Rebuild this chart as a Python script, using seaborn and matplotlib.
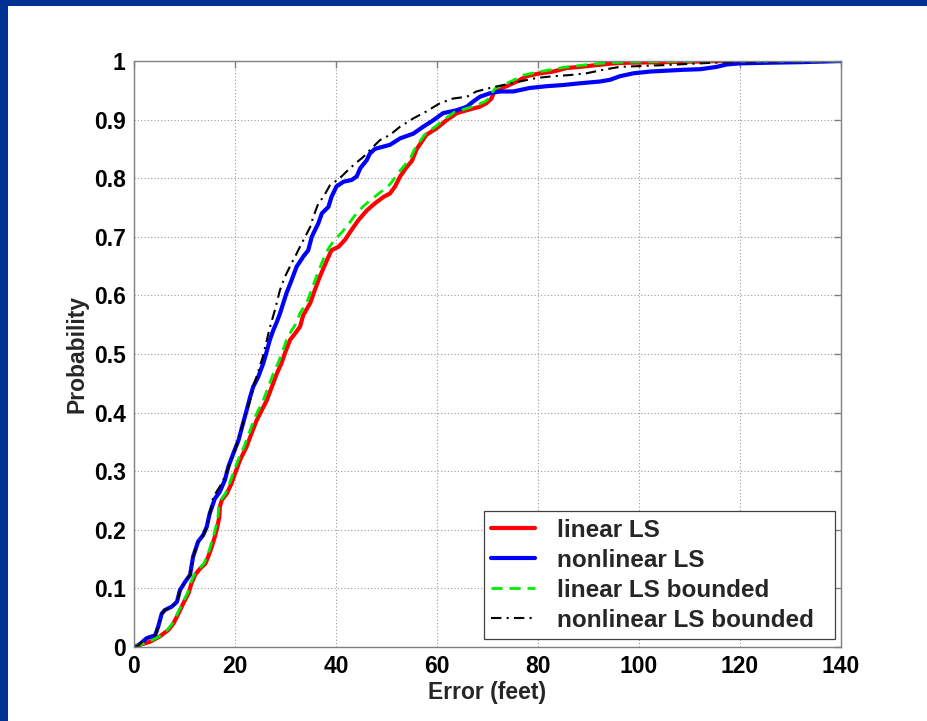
import matplotlib
matplotlib.use("Agg")
import matplotlib.pyplot as plt
import seaborn as sns
from matplotlib.patches import Rectangle

# ---------------- data ----------------
series_names = ["linear LS", "nonlinear LS", "linear LS bounded", "nonlinear LS bounded"]

red_x = [0, 0.9, 3.2, 5.1, 6.8, 7.8, 8.8, 9.8, 10.8, 11.4,
         12.1, 13.1, 14.1, 14.7, 15.4, 16.0, 16.5, 16.9, 17.0, 17.4,
         18.4, 19.3, 20.0, 21.0, 22.3, 23.3, 24.3, 25.3, 26.3, 27.3,
         28.3, 29.2, 30.0, 30.9, 31.9, 32.9, 33.5, 34.9, 35.8, 36.8,
         38.2, 39.1, 40.5, 41.8, 43.1, 44.4, 46.1, 47.7, 49.4, 50.7,
         51.7, 52.7, 54.0, 55.0, 56.0, 57.9, 59.9, 61.9, 63.9, 65.9,
         68.5, 69.8, 70.8, 71.2, 71.8, 73.8, 75.8, 77.7, 80.4, 83.0,
         85.7, 88.3, 91.6, 94.9, 97.5, 105.0, 117.0, 140.0]
red_y = [0, 0.003, 0.009, 0.018, 0.029, 0.040, 0.057, 0.075, 0.092, 0.109,
         0.123, 0.134, 0.142, 0.154, 0.171, 0.188, 0.205, 0.222, 0.239, 0.251,
         0.262, 0.279, 0.296, 0.319, 0.342, 0.365, 0.387, 0.404, 0.421, 0.444,
         0.467, 0.484, 0.504, 0.524, 0.535, 0.547, 0.566, 0.587, 0.609, 0.632,
         0.660, 0.677, 0.683, 0.695, 0.712, 0.728, 0.745, 0.757, 0.768, 0.774,
         0.786, 0.803, 0.819, 0.829, 0.850, 0.874, 0.885, 0.899, 0.911, 0.916,
         0.922, 0.928, 0.936, 0.945, 0.951, 0.957, 0.965, 0.974, 0.979, 0.982,
         0.988, 0.990, 0.993, 0.996, 0.997, 0.998, 1.0, 1.0]

blue_x = [0, 0.9, 2.5, 4.2, 4.8, 5.5, 6.1, 7.5, 8.5, 9.1,
          10.1, 11.1, 11.7, 12.7, 13.7, 14.4, 15.0, 16.0, 17.0, 18.0,
          18.7, 19.7, 20.7, 21.6, 22.3, 23.0, 23.6, 24.6, 25.6, 26.3,
          26.9, 27.6, 28.3, 28.9, 30.2, 31.2, 32.2, 33.5, 34.5, 35.2,
          36.5, 37.2, 38.5, 39.1, 40.1, 41.5, 43.1, 44.1, 44.8, 46.1,
          46.7, 47.7, 50.7, 52.7, 55.3, 57.3, 59.3, 61.2, 63.9, 65.9,
          67.2, 68.5, 70.5, 72.5, 75.1, 78.4, 81.7, 85.0, 88.3, 92.3,
          94.3, 96.2, 98.9, 102.2, 108.8, 112.1, 115.4, 117.3, 120.0, 125.3,
          131.9, 140.0]
blue_y = [0, 0.003, 0.015, 0.020, 0.035, 0.057, 0.063, 0.069, 0.077, 0.097,
          0.111, 0.123, 0.154, 0.180, 0.191, 0.205, 0.228, 0.253, 0.265, 0.285,
          0.308, 0.331, 0.353, 0.382, 0.404, 0.427, 0.444, 0.461, 0.484, 0.505,
          0.524, 0.541, 0.555, 0.569, 0.604, 0.626, 0.649, 0.666, 0.677, 0.700,
          0.723, 0.740, 0.751, 0.768, 0.786, 0.794, 0.797, 0.803, 0.817, 0.831,
          0.842, 0.850, 0.857, 0.868, 0.876, 0.888, 0.899, 0.911, 0.916, 0.922,
          0.931, 0.939, 0.945, 0.948, 0.948, 0.954, 0.957, 0.959, 0.962, 0.965,
          0.968, 0.974, 0.979, 0.982, 0.985, 0.986, 0.990, 0.994, 0.996, 0.997,
          0.998, 1.0]

green_x = [0, 0.9, 3.0, 5.0, 6.6, 7.6, 8.6, 9.6, 10.6, 11.2,
           11.9, 12.9, 13.8, 14.5, 15.1, 15.7, 16.2, 16.6, 16.8, 17.2,
           18.1, 18.9, 19.6, 20.6, 21.8, 22.8, 23.7, 24.6, 25.6, 26.6,
           27.6, 28.5, 29.4, 30.2, 31.0, 32.0, 32.9, 34.3, 35.2, 36.2,
           37.5, 38.5, 39.7, 41.2, 42.5, 43.8, 45.4, 47.0, 48.8, 50.2,
           51.2, 52.2, 53.6, 54.7, 55.6, 57.5, 59.5, 61.5, 63.5, 65.5,
           68.0, 69.5, 70.5, 70.9, 71.5, 73.4, 75.3, 77.2, 79.8, 82.5,
           85.0, 88.0, 91.0, 94.0, 97.0, 104.0, 116.0, 140.0]
green_y = [0, 0.003, 0.009, 0.018, 0.029, 0.040, 0.057, 0.075, 0.092, 0.109,
           0.123, 0.134, 0.142, 0.154, 0.171, 0.188, 0.205, 0.222, 0.239, 0.251,
           0.262, 0.279, 0.296, 0.319, 0.342, 0.365, 0.387, 0.404, 0.421, 0.444,
           0.467, 0.484, 0.504, 0.524, 0.537, 0.551, 0.570, 0.590, 0.611, 0.634,
           0.662, 0.680, 0.695, 0.708, 0.722, 0.737, 0.752, 0.764, 0.776, 0.785,
           0.795, 0.808, 0.822, 0.834, 0.850, 0.874, 0.887, 0.901, 0.913, 0.918,
           0.925, 0.931, 0.938, 0.946, 0.953, 0.960, 0.968, 0.976, 0.981, 0.985,
           0.989, 0.992, 0.995, 0.997, 0.998, 0.999, 1.0, 1.0]

black_x = [0, 0.9, 2.5, 4.2, 4.8, 5.5, 6.1, 7.5, 8.5, 9.1,
           10.1, 11.1, 11.7, 12.7, 13.7, 14.4, 15.0, 15.7, 17.0, 18.0,
           19.0, 20.0, 21.0, 22.0, 23.0, 23.6, 24.6, 25.5, 26.2, 26.9,
           27.9, 28.9, 29.9, 31.2, 31.9, 33.2, 33.9, 34.9, 35.5, 36.5,
           37.5, 38.8, 39.8, 41.1, 42.4, 43.8, 45.1, 46.1, 46.7, 48.7,
           50.7, 52.7, 55.3, 57.9, 60.6, 63.2, 65.9, 67.8, 70.5, 73.1,
           76.4, 79.7, 83.0, 86.3, 89.6, 92.9, 96.2, 105.0, 117.0, 140.0]
black_y = [0, 0.003, 0.015, 0.020, 0.035, 0.057, 0.063, 0.069, 0.077, 0.097,
           0.111, 0.123, 0.154, 0.180, 0.191, 0.205, 0.228, 0.256, 0.274, 0.291,
           0.313, 0.336, 0.365, 0.393, 0.421, 0.444, 0.470, 0.495, 0.520, 0.545,
           0.575, 0.609, 0.632, 0.655, 0.666, 0.689, 0.700, 0.717, 0.734, 0.757,
           0.768, 0.788, 0.794, 0.803, 0.814, 0.825, 0.834, 0.842, 0.848, 0.865,
           0.874, 0.888, 0.902, 0.914, 0.928, 0.936, 0.939, 0.948, 0.954, 0.959,
           0.965, 0.971, 0.974, 0.976, 0.979, 0.985, 0.990, 0.993, 0.998, 1.0]

x_ticks = [0, 20, 40, 60, 80, 100, 120, 140]
y_ticks = [0, 0.1, 0.2, 0.3, 0.4, 0.5, 0.6, 0.7, 0.8, 0.9, 1.0]
y_tick_labels = ["0", "0.1", "0.2", "0.3", "0.4", "0.5", "0.6", "0.7", "0.8", "0.9", "1"]
x_label = "Error (feet)"
y_label = "Probability"

# ---------------- style ----------------
sns.set_theme(style="white")
plt.rcParams['font.family'] = ['Liberation Sans', 'DejaVu Sans']
plt.rcParams['font.weight'] = 'bold'
plt.rcParams['axes.labelweight'] = 'bold'

fig = plt.figure(figsize=(9.27, 7.21), dpi=100)
fig.patch.set_facecolor("white")
navy = "#003194"
fig.add_artist(Rectangle((0, 1 - 6 / 721), 1, 6 / 721, transform=fig.transFigure,
                         facecolor=navy, edgecolor="none", zorder=10))
fig.add_artist(Rectangle((0, 0), 8 / 927, 1, transform=fig.transFigure,
                         facecolor=navy, edgecolor="none", zorder=10))

ax = fig.add_axes([134 / 927, 1 - 647 / 721, 707 / 927, 586 / 721])

styles = [
    (red_x, red_y, "#ff0000", "-", 3.0),
    (blue_x, blue_y, "#0000ff", "-", 3.0),
    (green_x, green_y, "#00ee00", (0, (4, 2.5)), 2.0),
    (black_x, black_y, "black", (0, (5, 2.5, 1, 2.5)), 1.5),
]
for name, (xs, ys, c, ls, lw) in zip(series_names, styles):
    sns.lineplot(x=xs, y=ys, ax=ax, color=c, linestyle=ls, linewidth=lw,
                 label=name, sort=False, estimator=None)

ax.set_xlim(0, 140)
ax.set_ylim(0, 1)
ax.set_xticks(x_ticks)
ax.set_xticklabels([str(t) for t in x_ticks])
ax.set_yticks(y_ticks)
ax.set_yticklabels(y_tick_labels)
ax.grid(True, linestyle=(0, (1, 2)), color="#999999", linewidth=0.8)
for s in ax.spines.values():
    s.set_color("#808080")
    s.set_linewidth(1.0)
ax.tick_params(axis="both", which="major", direction="in", length=5, width=1,
               color="#808080", labelcolor="black", labelsize=16.5, pad=6,
               top=True, right=True)
ax.set_xlabel(x_label, fontsize=16.5, fontweight="bold", labelpad=2)
ax.set_ylabel(y_label, fontsize=16.5, fontweight="bold", labelpad=4)

leg = ax.legend(loc="lower left", bbox_to_anchor=(0.495, 0.0137, 0.4965, 0.2),
                mode="expand", fontsize=17.5,
                frameon=True, fancybox=False, framealpha=1, edgecolor="#404040",
                handlelength=1.8, handletextpad=0.9, borderpad=0.3, labelspacing=0.29,
                borderaxespad=0)
leg.get_frame().set_linewidth(0.9)
for t in leg.get_texts():
    t.set_fontweight("bold")

fig.savefig("out.png", dpi=100)
